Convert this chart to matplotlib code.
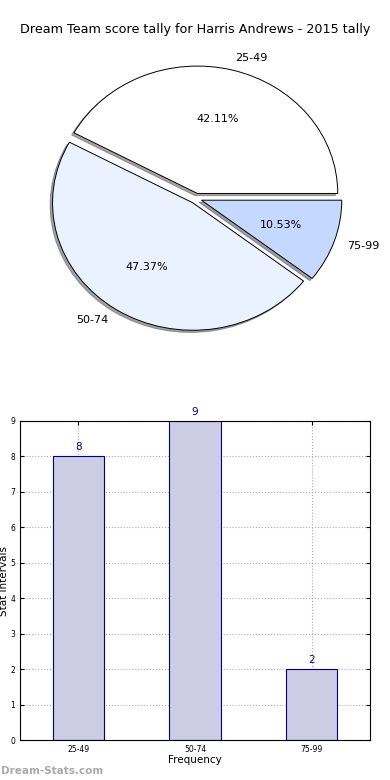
import matplotlib
matplotlib.use("Agg")
import matplotlib.pyplot as plt

# Score intervals and how often each came up.
intervals = ["25-49", "50-74", "75-99"]
counts = [8, 9, 2]
pie_colors = ["#ffffff", "#eaf1ff", "#c5d9ff"]

fig = plt.figure(figsize=(3.9, 7.8), dpi=100)

# Pie on top (old-style, not forced to a circle).
ax_pie = fig.add_axes([17 / 390, 1 - 361 / 780, 358 / 390, 325 / 780])
ax_pie.pie(
    counts,
    labels=intervals,
    colors=pie_colors,
    explode=[0.04] * len(counts),
    autopct="%1.2f%%",
    shadow={"ox": -0.012, "oy": -0.012},
    startangle=0,
    radius=0.98,
    wedgeprops={"edgecolor": "black", "linewidth": 0.7},
    textprops={"fontsize": 8},
)
ax_pie.set_aspect("auto")
ax_pie.set_xlim(-1.25, 1.25)
ax_pie.set_ylim(-1.25, 1.25)
ax_pie.axis("off")
fig.text(0.5, 1 - 30 / 780, "Dream Team score tally for Harris Andrews - 2015 tally",
         ha="center", va="center", fontsize=9.2)

# Bar chart underneath.
ax_bar = fig.add_axes([20 / 390, 1 - 740 / 780, 350 / 390, 319 / 780])
positions = range(len(intervals))
ax_bar.bar(positions, counts, width=0.44, color="#ccccE4",
           edgecolor="navy", linewidth=0.8, zorder=2)
for p, c in zip(positions, counts):
    ax_bar.text(p, c + 0.12, str(c), ha="center", va="bottom",
                color="navy", fontsize=7.5)

ax_bar.set_xlim(-0.5, 2.5)
ax_bar.set_ylim(0, 9)
ax_bar.set_xticks(list(positions))
ax_bar.set_xticklabels(intervals)
ax_bar.set_yticks(range(10))
ax_bar.tick_params(labelsize=5.5, length=3, direction="in", top=True, right=True)
ax_bar.grid(True, linestyle=":", color="#aaaaaa", linewidth=0.8, zorder=0)
ax_bar.set_xlabel("Frequency", fontsize=7.5, labelpad=1)
ax_bar.set_ylabel("Stat Intervals", fontsize=7.5, labelpad=1)

fig.text(0.5 / 390, 1 - 771 / 780, "Dream-Stats.com", ha="left", va="center",
         fontsize=7.5, color="#aaaaaa", fontweight="bold")

fig.savefig("out.png", dpi=100)
